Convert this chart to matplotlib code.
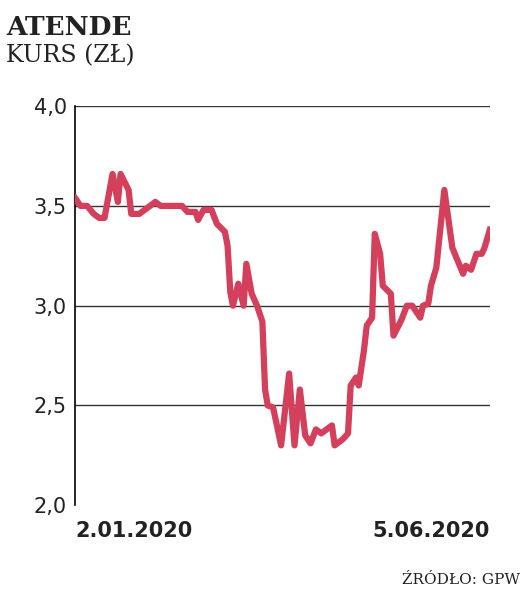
import matplotlib.pyplot as plt

# trading-day index and closing price in PLN
days = [0, 2, 4.5, 7, 9, 11, 14, 16, 17, 20, 21, 24, 30, 32, 40, 42, 45, 46, 48, 51,
        53, 56, 57, 58, 59, 61, 63, 64, 66, 68, 70, 71, 72, 74, 77, 80, 82, 84, 86, 88,
        90, 92, 96, 97, 100, 102, 103, 105, 106, 108, 109, 111, 112, 114, 115, 118, 119,
        122, 124, 126, 129, 130, 132, 133, 135, 138, 141, 145, 146, 148, 150, 152, 153, 155]
price = [3.54, 3.50, 3.50, 3.46, 3.44, 3.44, 3.66, 3.52, 3.66, 3.58, 3.46, 3.46, 3.52, 3.50,
         3.50, 3.47, 3.47, 3.43, 3.48, 3.48, 3.41, 3.37, 3.30, 3.07, 3.00, 3.11, 3.00, 3.21,
         3.06, 3.00, 2.92, 2.58, 2.50, 2.49, 2.30, 2.66, 2.30, 2.58, 2.35, 2.31, 2.38, 2.36,
         2.40, 2.30, 2.33, 2.36, 2.60, 2.64, 2.60, 2.78, 2.90, 2.94, 3.36, 3.26, 3.10, 3.06,
         2.85, 2.93, 3.00, 3.00, 2.94, 3.00, 3.01, 3.10, 3.19, 3.58, 3.29, 3.16, 3.20, 3.18,
         3.26, 3.26, 3.29, 3.38]
yticks = [2.0, 2.5, 3.0, 3.5, 4.0]
ytick_labels = ["2,0", "2,5", "3,0", "3,5", "4,0"]
date_labels = ["2.01.2020", "5.06.2020"]

fig = plt.figure(figsize=(5.25, 5.93), dpi=100)
ax = fig.add_axes([0.143, 0.148, 0.79, 0.673])

for v in yticks[1:]:
    ax.axhline(v, color="#333333", linewidth=1, zorder=1)
ax.plot(days, price, color="#d4405c", linewidth=4.5, solid_joinstyle="round", zorder=3)

ax.set_xlim(0, 155)
ax.set_ylim(2.0, 4.0)
ax.set_yticks(yticks)
ax.set_yticklabels(ytick_labels, fontsize=15, color="#222222")
ax.tick_params(axis="y", length=0, pad=6)
ax.set_xticks([])
for s in ["top", "right", "bottom"]:
    ax.spines[s].set_visible(False)
ax.spines["left"].set_linewidth(1.2)

ax.text(0, -0.04, date_labels[0], transform=ax.transAxes, ha="left", va="top",
        fontsize=15, fontweight="bold", color="#222222")
ax.text(1, -0.04, date_labels[1], transform=ax.transAxes, ha="right", va="top",
        fontsize=15, fontweight="bold", color="#222222")

fig.text(0.012, 0.975, "ATENDE", ha="left", va="top", fontsize=19, fontweight="bold",
         family="DejaVu Serif", color="#222222")
fig.text(0.012, 0.925, "KURS (ZŁ)", ha="left", va="top", fontsize=17,
         family="DejaVu Serif", color="#222222")
fig.text(0.99, 0.01, "ŹRÓDŁO: GPW", ha="right", va="bottom", fontsize=11,
         family="DejaVu Serif", color="#222222")

fig.savefig("out.png", dpi=100, facecolor="white")
